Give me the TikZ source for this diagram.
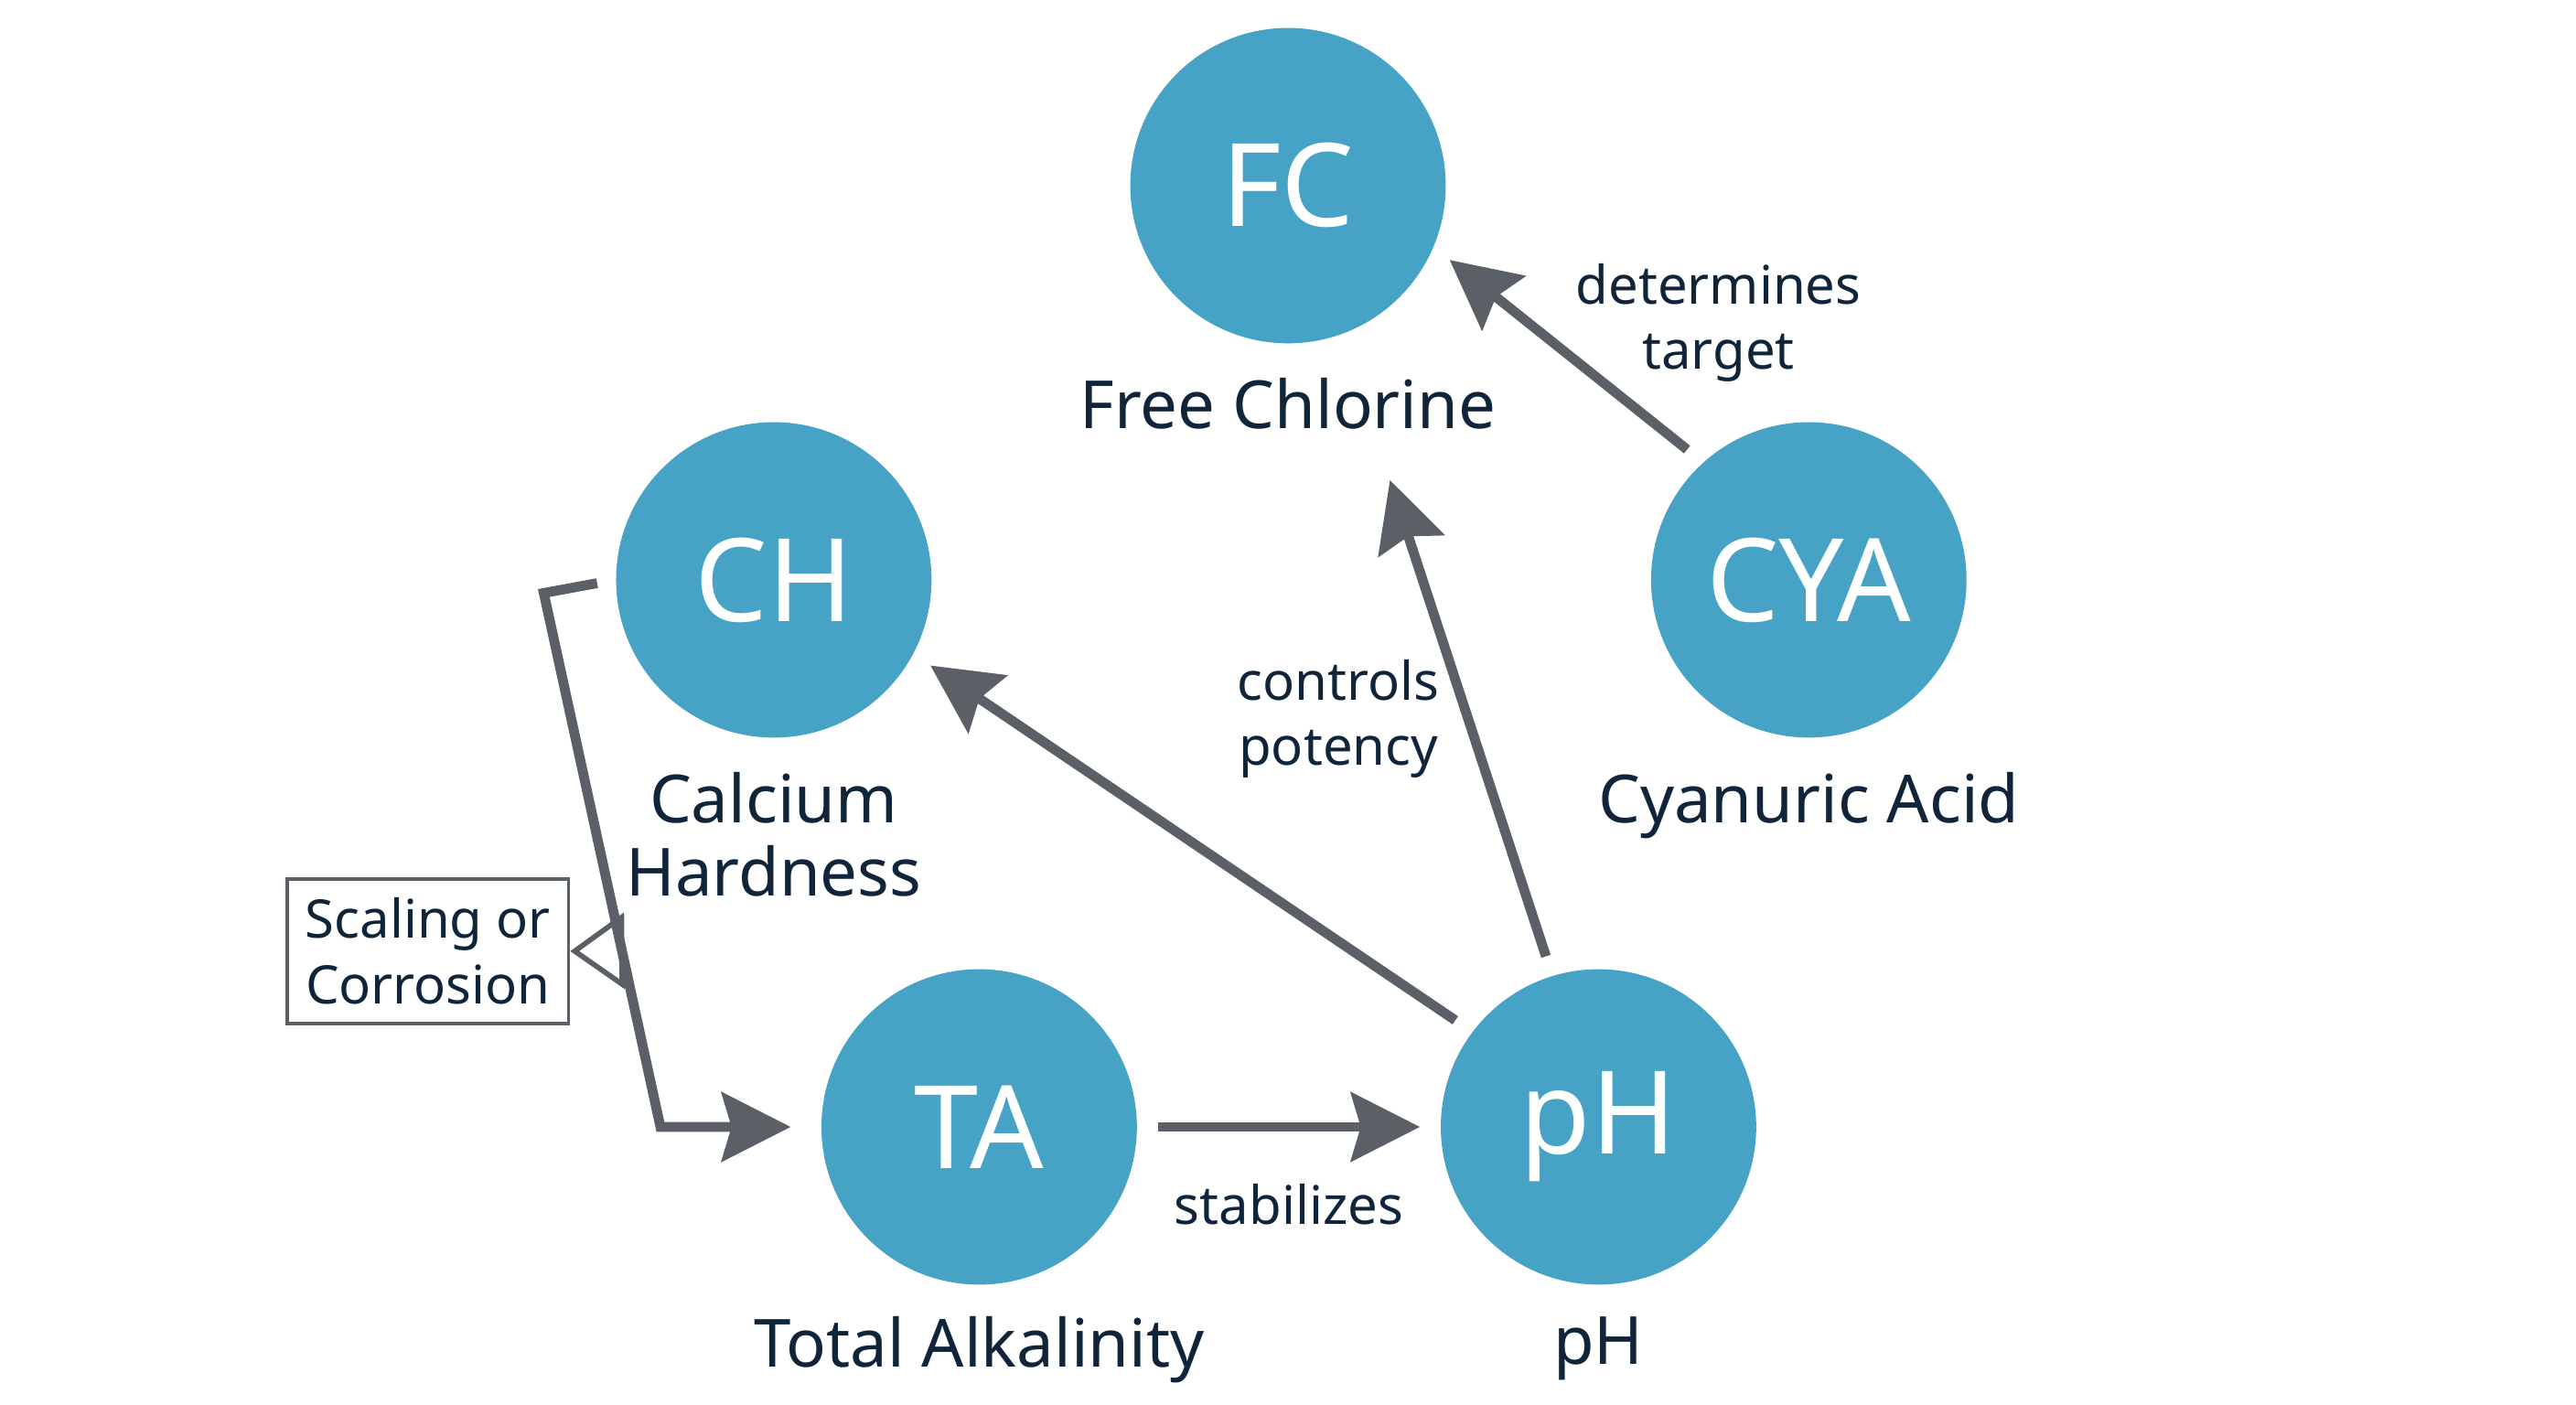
\documentclass[tikz,border=0pt]{standalone}
\usepackage{fontspec}
\setmainfont{Noto Sans}
\usepackage{tikz}
\usepackage{xcolor}
\usetikzlibrary{arrows.meta,positioning,calc}
\definecolor{PoolTeal}{HTML}{46A3C5}
\definecolor{PoolInk}{HTML}{10243A}
\definecolor{PoolGrey}{HTML}{5B5F66}
\definecolor{PoolWhite}{HTML}{ffffff}
\tikzset{
    % Chemistry circle
    chemnode/.style={
        circle,
        fill=PoolTeal,
        text=PoolWhite,
        minimum size=1.92cm,
        inner sep=0pt,
        font=\fontsize{20}{24}\selectfont
    },
    % Caption under a circle
    captionnode/.style={
        text=PoolInk,
        inner sep=0pt,
        align=center,
        font=\fontsize{11.5}{12.6}\selectfont
    },
    % Label on a connector
    edgelabel/.style={
        text=PoolInk,
        inner sep=1pt,
        align=center,
        font=\fontsize{9.2}{11.3}\selectfont
    },
    % Note box
    notebox/.style={
        draw=PoolGrey,
        fill=PoolWhite,
        line width=0.6pt,
        text=PoolInk,
        align=center,
        minimum width=1.71cm,
        minimum height=0.88cm,
        inner sep=2pt,
        font=\fontsize{9.2}{11.3}\selectfont
    },
    % Arrow styles (straight lines only)
    myarrow/.style={
        -{Stealth[length=4.2mm,width=4.2mm,inset=0.6mm]},
        line width=1.7pt,
        draw=PoolGrey,
        shorten <=1.2mm,
        shorten >=1.2mm
    },
    % Open arrow to the note
    openarrow/.style={
        -{Triangle[open,length=3.3mm,width=4.6mm]},
        line width=0.9pt,
        draw=PoolGrey
    }
}

\begin{document}
\begin{tikzpicture}
        \useasboundingbox[fill=PoolWhite] (0,0) rectangle (15.68,-8.55);

        % Circles
        \node[chemnode] (fc) at (7.84,-1.13) {FC};
        \node[chemnode] (ch) at (4.71,-3.53) {CH};
        \node[chemnode] (cya) at (11.01,-3.53) {CYA};
        \node[chemnode] (ta) at (5.96,-6.86) {TA};
        \node[chemnode] (ph) at (9.73,-6.86) {pH};

        % Captions
        \node[captionnode, below=2mm of fc] (fclab) {Free Chlorine};
        \node[captionnode, below=2mm of ch] (chlab) {Calcium\\Hardness};
        \node[captionnode, below=2mm of cya] (cyalab) {Cyanuric Acid};
        \node[captionnode, below=1.8mm of ta] (talab) {Total Alkalinity};
        \node[captionnode, below=1.8mm of ph] (phlab) {pH};

        % Note box
        \node[notebox] (scbox) at (2.605,-5.79) {Scaling or\\Corrosion};

        % Bracket corners
        \coordinate (brtop) at (3.31,-3.61);
        \coordinate (brbot) at (4.02,-6.86);

        % Arrows
        \draw[myarrow] (cya.132) -- node[edgelabel, pos=0.5, anchor=south west, xshift=-0.2mm, yshift=-2.3mm] (detlab) {determines\\target} (fc.-23);
        \draw[myarrow, shorten >=9.3mm] (ph.107) -- node[edgelabel, pos=0.4, anchor=east, xshift=-1.1mm] (potlab) {controls\\potency} (fc.-70);
        \draw[myarrow] (ph.143) -- (ch.-28);
        \draw[myarrow] (ta.east) -- node[edgelabel, midway, below=2.8mm] (stablab) {stabilizes} (ph.west);
        \draw[myarrow, shorten <=1.1mm, shorten >=1.8mm] (ch.west) -- (brtop) -- (brbot) -- (ta.west);

        % Note arrow
        \draw[openarrow] ($(brtop)!0.67!(brbot)$) -- (scbox.east);
\end{tikzpicture}
\end{document}
